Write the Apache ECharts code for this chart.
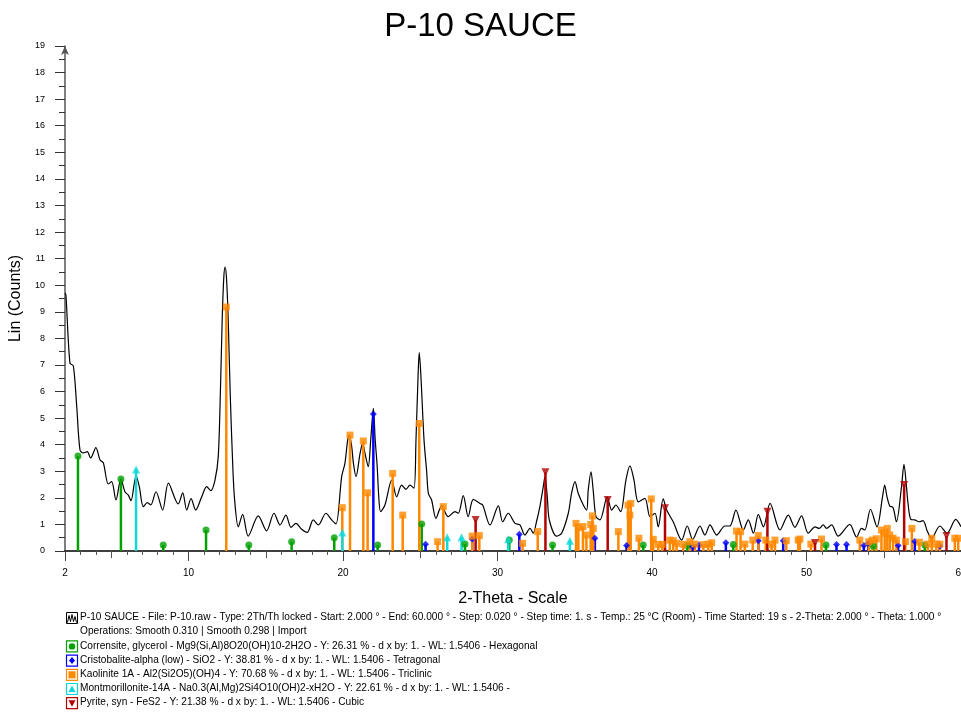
<!DOCTYPE html>
<html>
<head>
<meta charset="utf-8">
<script src="https://cdn.jsdelivr.net/npm/echarts@6/dist/echarts.min.js"></script>
<style>
html,body{margin:0;padding:0;background:#fff;}
#chart{width:961px;height:714px;}
</style>
</head>
<body>
<div id="chart"></div>
<script>
// ---- DATA ----
const chartTitle = 'P-10 SAUCE';
const xTickLabels = [2, 10, 20, 30, 40, 50, 60];

// measured scan (2-Theta, Lin counts)
const scan = [
  [2.00, 9.70], [2.06, 9.63], [2.32, 7.07], [2.54, 6.96], [2.76, 5.43], [2.97, 3.80], [3.19, 3.69],
  [3.44, 3.74], [3.66, 3.50], [4.00, 3.89], [4.27, 3.42], [4.48, 3.32], [4.80, 2.52], [5.02, 2.61],
  [5.30, 1.92], [5.62, 2.71], [5.88, 2.23], [6.10, 2.10], [6.27, 1.89], [6.60, 2.83], [6.81, 2.42],
  [7.07, 1.67], [7.33, 1.82], [7.55, 1.73], [7.89, 2.23], [8.32, 1.54], [8.69, 2.55], [9.33, 1.77],
  [9.62, 2.19], [9.88, 1.54], [10.16, 1.97], [10.46, 1.54], [10.85, 2.04], [11.17, 2.42], [11.43, 2.27],
  [11.71, 2.67], [11.92, 3.55], [12.06, 6.00], [12.18, 8.80], [12.28, 10.30], [12.36, 10.68], [12.45, 10.30],
  [12.56, 8.80], [12.69, 6.00], [12.84, 3.50], [12.97, 2.00], [13.22, 0.91],
  [13.50, 1.38], [13.86, 0.56], [14.51, 1.32], [15.05, 0.76], [15.53, 1.42], [15.92, 0.98], [16.30, 1.35],
  [16.63, 0.89], [16.95, 1.04], [17.32, 0.82], [17.68, 0.70], [18.07, 1.17], [18.40, 0.98], [18.89, 1.42],
  [19.26, 1.17], [19.54, 1.02], [19.91, 2.80], [20.12, 3.30], [20.30, 4.18], [20.40, 4.36], [20.56, 3.92],
  [20.67, 3.30], [20.84, 2.80], [21.10, 3.67], [21.27, 4.05], [21.42, 3.67],
  [21.63, 3.17], [21.79, 4.18], [21.96, 5.37], [22.08, 4.18], [22.21, 3.17], [22.31, 2.04], [22.43, 1.48],
  [22.71, 1.73], [23.15, 2.67], [23.47, 2.04],
  [23.79, 2.48], [24.07, 2.32], [24.33, 2.48], [24.59, 2.36], [24.72, 4.18], [24.86, 6.68], [24.93, 7.46],
  [25.03, 6.68], [25.24, 4.18], [25.41, 3.00], [25.52, 2.17],
  [25.73, 1.92], [26.01, 1.23], [26.38, 1.70], [26.81, 1.29], [27.24, 1.48], [27.46, 1.42], [27.78, 2.08],
  [28.10, 1.29], [28.43, 1.94], [28.86, 1.79], [29.04, 1.73], [29.51, 0.98], [30.05, 1.70], [30.33, 1.10],
  [30.69, 1.42], [31.13, 1.04], [31.45, 0.98], [31.77, 0.60], [32.10, 0.85], [32.31, 0.67], [32.52, 1.10],
  [32.74, 1.67], [32.96, 2.42], [33.07, 2.80], [33.22, 2.04], [33.35, 1.17], [33.82, 0.56], [34.15, 0.67],
  [34.58, 1.42], [34.79, 2.17], [35.01, 2.61], [35.22, 2.17], [35.55, 1.73],
  [35.77, 1.54], [35.87, 2.29], [36.05, 2.98], [36.19, 2.29], [36.37, 1.29], [36.63, 1.17], [37.10, 2.04],
  [37.39, 1.54], [37.66, 1.73],
  [37.97, 1.48], [38.31, 2.67], [38.57, 3.20], [38.83, 2.67], [39.11, 1.85], [39.54, 1.98], [39.87, 1.29],
  [40.19, 1.42], [40.40, 0.91],
  [40.72, 1.96], [40.95, 1.54], [41.37, 1.10], [41.92, 0.41], [42.28, 0.94], [42.63, 0.44], [43.10, 0.94],
  [43.42, 0.60], [43.75, 0.98], [44.18, 0.60], [44.72, 0.94], [45.04, 0.94], [45.43, 1.54], [45.91, 0.79],
  [46.23, 1.17], [46.56, 0.67], [46.88, 1.38], [47.21, 0.91], [47.64, 1.79], [48.28, 0.79], [48.82, 1.35],
  [49.25, 0.89], [49.68, 1.32], [50.11, 0.67], [50.55, 0.91], [50.82, 0.85], [51.08, 0.98], [51.30, 0.85],
  [51.62, 0.98], [52.05, 0.56], [52.80, 1.00], [53.24, 0.52], [53.56, 0.85], [53.77, 0.79], [54.14, 1.57],
  [54.56, 0.91], [54.92, 2.04], [55.06, 2.48], [55.21, 2.04], [55.39, 1.69], [55.60, 1.64], [55.82, 1.10],
  [56.15, 2.42], [56.31, 3.26], [56.47, 2.42], [56.57, 1.79],
  [56.75, 1.19], [57.00, 1.17], [57.29, 1.10], [57.54, 1.14], [57.83, 0.73], [58.09, 0.48], [58.63, 0.94],
  [59.10, 0.67], [59.66, 1.19], [60.00, 0.91]
];

// reference patterns (2-Theta, intensity on the Lin scale)
const corrensite = [
  [2.84, 3.57], [5.62, 2.71], [8.36, 0.23], [11.13, 0.79], [13.90, 0.23], [16.67, 0.35], [19.43, 0.50],
  [22.24, 0.23], [25.09, 1.02], [27.89, 0.26], [30.76, 0.41], [33.56, 0.23], [39.43, 0.23], [42.28, 0.21],
  [45.26, 0.24], [51.26, 0.23], [54.32, 0.19], [57.66, 0.23]
];
const cristobalite = [
  [21.96, 5.15], [25.34, 0.25], [28.36, 0.45], [31.41, 0.63], [36.30, 0.48], [38.35, 0.21], [42.63, 0.16],
  [43.04, 0.23], [44.78, 0.31], [46.88, 0.39], [48.49, 0.39], [51.94, 0.24], [52.59, 0.24], [53.71, 0.21],
  [53.99, 0.29], [55.93, 0.21], [57.01, 0.36], [58.63, 0.19]
];
const kaolinite = [
  [12.44, 9.18], [19.95, 1.63], [20.45, 4.36], [21.31, 4.14], [21.59, 2.19], [23.21, 2.92], [23.86, 1.35],
  [24.93, 4.80], [26.12, 0.35], [26.49, 1.67], [28.36, 0.56], [28.82, 0.58], [31.62, 0.29], [32.60, 0.73],
  [35.08, 1.04], [35.23, 0.88], [35.53, 0.92], [35.75, 0.60], [36.03, 1.00], [36.14, 1.32], [36.20, 0.85],
  [37.82, 0.73], [38.45, 1.73], [38.57, 1.35], [38.62, 1.79], [39.15, 0.48], [39.95, 1.96], [40.08, 0.44],
  [40.40, 0.25], [40.66, 0.25], [41.15, 0.41], [41.37, 0.39], [41.59, 0.29], [42.02, 0.25], [42.45, 0.35],
  [42.78, 0.26], [43.32, 0.24], [43.64, 0.26], [43.86, 0.31], [45.47, 0.75], [45.73, 0.73], [46.01, 0.26],
  [46.52, 0.41], [46.88, 0.58], [47.36, 0.41], [47.74, 0.26], [47.96, 0.41], [48.69, 0.39], [49.46, 0.41],
  [49.57, 0.45], [50.28, 0.26], [50.97, 0.45], [53.45, 0.41], [54.03, 0.35], [54.25, 0.41], [54.52, 0.46],
  [54.85, 0.79], [55.06, 0.67], [55.23, 0.85], [55.39, 0.60], [55.60, 0.48], [55.82, 0.41], [56.40, 0.35],
  [56.82, 0.85], [57.31, 0.33], [57.85, 0.26], [58.11, 0.48], [58.40, 0.26], [58.63, 0.26], [59.60, 0.48],
  [59.82, 0.48]
];
const montmorillonite = [
  [6.60, 3.07], [19.95, 0.70], [26.74, 0.52], [27.67, 0.52], [30.69, 0.44], [34.68, 0.39]
];
const pyrite = [
  [28.58, 1.17], [33.10, 2.96], [37.13, 1.92], [40.84, 1.61], [47.47, 1.48], [50.55, 0.30], [56.32, 2.48],
  [59.06, 0.56]
];

const legendLines = [
  'P-10 SAUCE - File: P-10.raw - Type: 2Th/Th locked - Start: 2.000 ° - End: 60.000 ° - Step: 0.020 ° - Step time: 1. s - Temp.: 25 °C (Room) - Time Started: 19 s - 2-Theta: 2.000 ° - Theta: 1.000 °',
  'Operations: Smooth 0.310 | Smooth 0.298 | Import',
  'Corrensite, glycerol - Mg9(Si,Al)8O20(OH)10-2H2O - Y: 26.31 % - d x by: 1. - WL: 1.5406 - Hexagonal',
  'Cristobalite-alpha (low) - SiO2 - Y: 38.81 % - d x by: 1. - WL: 1.5406 - Tetragonal',
  'Kaolinite 1A - Al2(Si2O5)(OH)4 - Y: 70.68 % - d x by: 1. - WL: 1.5406 - Triclinic',
  'Montmorillonite-14A - Na0.3(Al,Mg)2Si4O10(OH)2-xH2O - Y: 22.61 % - d x by: 1. - WL: 1.5406 -',
  'Pyrite, syn - FeS2 - Y: 21.38 % - d x by: 1. - WL: 1.5406 - Cubic'
];

// ---- STYLE ----
const FONT = '"Liberation Sans", Arial, sans-serif';
const INV_TRI = 'path://M0,0 L10,0 L5,10 Z';
const phases = [
  { name: 'Corrensite', data: corrensite, color: '#00a000', symbol: 'circle', size: 7 },
  { name: 'Cristobalite', data: cristobalite, color: '#0000ff', symbol: 'diamond', size: 7 },
  { name: 'Kaolinite', data: kaolinite, color: '#ff8800', symbol: 'rect', size: 7 },
  { name: 'Montmorillonite', data: montmorillonite, color: '#10d8d8', symbol: 'triangle', size: 8 },
  { name: 'Pyrite', data: pyrite, color: '#b00000', symbol: INV_TRI, size: 8 }
];

const chart = echarts.init(document.getElementById('chart'), null, { renderer: 'canvas' });

const GRID = { left: 65, right: 0, top: 46, bottom: 163, outerBoundsMode: 'none', containLabel: false };
const xBase = { type: 'value', min: 2, max: 60, gridIndex: 0, position: 'bottom' };

const series = [{
  type: 'line', name: 'scan', data: scan, xAxisIndex: 0, yAxisIndex: 0,
  smooth: 0.3, showSymbol: false, symbol: 'none',
  lineStyle: { color: '#000', width: 1.2 }, z: 2, animation: false
}];
phases.forEach(p => {
  series.push({
    type: 'custom', name: p.name + ' sticks', data: p.data, xAxisIndex: 0, yAxisIndex: 0, z: 3,
    animation: false,
    renderItem: (params, api) => {
      const top = api.coord([api.value(0), api.value(1)]);
      const base = api.coord([api.value(0), 0]);
      return { type: 'line', shape: { x1: top[0], y1: top[1], x2: base[0], y2: base[1] },
        style: { stroke: p.color, lineWidth: 2.5 } };
    }
  });
  series.push({
    type: 'scatter', name: p.name, data: p.data, xAxisIndex: 0, yAxisIndex: 0, z: 4,
    symbol: p.symbol, symbolSize: p.size, itemStyle: { color: p.color }, animation: false
  });
});

// legend graphics
const legendGraphics = [];
const lineY = [618.5, 632.7, 646.9, 661.1, 675.3, 689.5, 703.7];
legendLines.forEach((t, i) => {
  legendGraphics.push({ type: 'text', left: 80, top: lineY[i] - 6,
    style: { text: t, font: '10.15px ' + FONT, fill: '#000' } });
});
// scan icon
legendGraphics.push({ type: 'rect', shape: { x: 66.5, y: lineY[0] - 6, width: 11, height: 11 },
  style: { fill: '#fff', stroke: '#000', lineWidth: 1 } });
legendGraphics.push({ type: 'polyline', shape: { points: [[67.5, lineY[0] + 4], [69, lineY[0] - 3], [70.5, lineY[0] + 3], [72, lineY[0] - 4], [73.5, lineY[0] + 3], [75, lineY[0] - 2], [76.5, lineY[0] + 4]] },
  style: { stroke: '#000', lineWidth: 1, fill: null } });
const iconShapes = ['circle', 'diamond', 'rect', 'triangle', 'invtri'];
phases.forEach((p, i) => {
  const cy = lineY[i + 2];
  legendGraphics.push({ type: 'rect', shape: { x: 66.5, y: cy - 6, width: 11, height: 11 },
    style: { fill: '#fff', stroke: p.color, lineWidth: 1.2 } });
  const cx = 72, c = cy - 0.5;
  let g;
  if (iconShapes[i] === 'circle') g = { type: 'circle', shape: { cx: cx, cy: c, r: 3.2 }, style: { fill: p.color } };
  else if (iconShapes[i] === 'diamond') g = { type: 'polygon', shape: { points: [[cx, c - 3.5], [cx + 3, c], [cx, c + 3.5], [cx - 3, c]] }, style: { fill: p.color } };
  else if (iconShapes[i] === 'rect') g = { type: 'rect', shape: { x: cx - 3.5, y: c - 3.5, width: 7, height: 7 }, style: { fill: p.color } };
  else if (iconShapes[i] === 'triangle') g = { type: 'polygon', shape: { points: [[cx, c - 3.5], [cx + 3.5, c + 3], [cx - 3.5, c + 3]] }, style: { fill: p.color } };
  else g = { type: 'polygon', shape: { points: [[cx - 3.5, c - 3], [cx + 3.5, c - 3], [cx, c + 3.5]] }, style: { fill: p.color } };
  legendGraphics.push(g);
});

const ones = []; for (let v = 2; v <= 60; v++) ones.push(v);
const fives = [5, 10, 15, 20, 25, 30, 35, 40, 45, 50, 55, 60];
const tens = [10, 20, 30, 40, 50, 60];

chart.setOption({
  animation: false,
  backgroundColor: '#fff',
  title: { text: chartTitle, left: 'center', top: 5,
    textStyle: { fontFamily: FONT, fontSize: 33, fontWeight: 'normal', color: '#000' } },
  grid: GRID,
  xAxis: [
    Object.assign({}, xBase, {
      name: '2-Theta - Scale', nameLocation: 'middle', nameGap: 40,
      nameTextStyle: { fontFamily: FONT, fontSize: 16, color: '#000' },
      axisLine: { show: true, lineStyle: { color: '#000', width: 1.5 } },
      axisTick: { show: true, customValues: ones, length: 4, lineStyle: { color: '#555' } },
      axisLabel: { customValues: xTickLabels, fontFamily: FONT, fontSize: 10, color: '#000', margin: 17 },
      splitLine: { show: false }
    }),
    Object.assign({}, xBase, {
      axisLine: { show: false }, axisLabel: { show: false }, splitLine: { show: false },
      axisTick: { show: true, customValues: fives, length: 7, lineStyle: { color: '#555' } }
    }),
    Object.assign({}, xBase, {
      axisLine: { show: false }, axisLabel: { show: false }, splitLine: { show: false },
      axisTick: { show: true, customValues: [2].concat(tens), length: 10, lineStyle: { color: '#444' } }
    })
  ],
  yAxis: [{
    type: 'value', min: 0, max: 19, interval: 1,
    name: 'Lin (Counts)', nameLocation: 'middle', nameGap: 37,
    nameTextStyle: { fontFamily: FONT, fontSize: 16, color: '#000' },
    axisLine: { show: true, symbol: ['none', 'arrow'], symbolSize: [6, 9], symbolOffset: [0, 0],
      lineStyle: { color: '#555', width: 1.5 } },
    axisTick: { show: true, length: 10, lineStyle: { color: '#333' } },
    minorTick: { show: true, splitNumber: 2, length: 6, lineStyle: { color: '#333' } },
    axisLabel: { fontFamily: FONT, fontSize: 9, color: '#000', margin: 20 },
    splitLine: { show: false }, minorSplitLine: { show: false }
  }],
  series: series,
  graphic: legendGraphics
});
</script>
</body>
</html>
